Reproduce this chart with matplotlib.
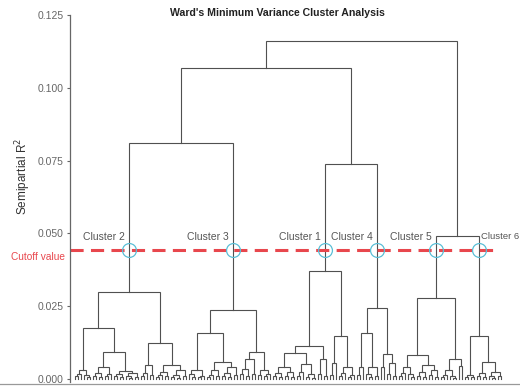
import matplotlib
matplotlib.use('Agg')
import matplotlib.pyplot as plt
from matplotlib.lines import Line2D

plt.rcParams['font.family'] = ['Liberation Sans', 'DejaVu Sans']

# merge tree: a node is (height, left, right), a leaf is 0
# cluster 2
a = (0.0030, (0.0018, (0.0009, 0, 0), 0), (0.0014, 0, (0.0007, 0, 0)))
b1 = (0.0040, (0.0022, (0.0011, 0, 0), (0.0008, 0, 0)), (0.0016, (0.0009, 0, 0), 0))
b2 = (0.0028, (0.0017, (0.0010, 0, 0), (0.0006, 0, 0)), (0.0021, (0.0012, 0, (0.0005, 0, 0)), (0.0008, 0, 0)))
c1 = (0.0048, (0.0020, (0.0009, 0, 0), 0), (0.0013, 0, 0))
c2 = (0.0048, (0.0026, (0.0014, (0.0007, 0, 0), 0), (0.0010, 0, 0)),
      (0.0031, (0.0015, (0.0008, 0, 0), (0.0005, 0, 0)), (0.0012, 0, 0)))
cluster2 = (0.0298, (0.0175, a, (0.0092, b1, b2)), (0.0123, c1, c2))

# cluster 3
d = (0.0032, (0.0016, 0, (0.0008, 0, 0)), (0.0012, (0.0006, 0, 0), 0))
e = (0.0060, (0.0030, (0.0015, (0.0008, 0, 0), 0), (0.0011, 0, 0)),
     (0.0040, (0.0022, (0.0010, 0, 0), (0.0007, 0, 0)), (0.0013, 0, 0)))
f = (0.0068, (0.0035, (0.0016, 0, 0), (0.0010, 0, 0)), (0.0018, 0, 0))
g = (0.0030, (0.0014, 0, 0), (0.0019, (0.0009, 0, 0), 0))
cluster3 = (0.0236, (0.0157, d, e), (0.0092, f, g))

# cluster 1
h1 = (0.0042, (0.0020, (0.0010, 0, 0), (0.0007, 0, 0)), (0.0025, (0.0012, 0, 0), (0.0006, 0, 0)))
h2 = (0.0052, (0.0024, (0.0011, 0, 0), 0), (0.0016, (0.0008, 0, 0), (0.0005, 0, 0)))
i1 = (0.0070, (0.0018, 0, 0), (0.0012, 0, 0))
j = (0.0055, (0.0015, 0, 0), 0)
k = (0.0042, (0.0020, (0.0009, 0, 0), 0), (0.0015, (0.0007, 0, 0), 0))
cluster1 = (0.0370, (0.0113, (0.0090, h1, h2), i1), (0.0147, j, k))

# cluster 4
l = (0.0042, (0.0015, 0, 0), 0)
m = (0.0042, (0.0018, 0, (0.0008, 0, 0)), (0.0012, 0, 0))
n = (0.0040, 0, 0)
o = (0.0055, (0.0016, 0, 0), (0.0010, 0, 0))
cluster4 = (0.0243, (0.0157, l, m), (0.0085, n, o))

# cluster 5
p = (0.0042, (0.0020, (0.0009, 0, 0), 0), (0.0016, 0, (0.0007, 0, 0)))
q = (0.0050, (0.0025, (0.0011, 0, 0), (0.0008, 0, 0)), (0.0030, (0.0013, 0, 0), (0.0006, 0, 0)))
r = (0.0030, (0.0014, (0.0007, 0, 0), 0), (0.0012, 0, (0.0005, 0, 0)))
s = (0.0045, 0, 0)
cluster5 = (0.0280, (0.0082, p, q), (0.0070, r, s))

# cluster 6
t = (0.0015, (0.0008, 0, 0), (0.0006, 0, 0))
u1 = (0.0022, (0.0010, 0, 0), (0.0007, 0, 0))
u2 = (0.0025, (0.0011, 0, (0.0005, 0, 0)), (0.0009, 0, 0))
cluster6 = (0.0147, t, (0.0058, u1, u2))

tree = (0.1160,
        (0.1068, (0.0812, cluster2, cluster3), (0.0740, cluster1, cluster4)),
        (0.0490, cluster5, cluster6))

cluster_names = ['Cluster 2', 'Cluster 3', 'Cluster 1', 'Cluster 4', 'Cluster 5', 'Cluster 6']
cutoff = 0.0442
y_ticks = [0.000, 0.025, 0.050, 0.075, 0.100, 0.125]

line_color = '#505050'
red = '#e8474d'
cyan = '#5bbfd6'

fig = plt.figure(figsize=(5.2, 3.86), dpi=100)
ax = fig.add_axes([70 / 520, 4 / 386, 440 / 520, 367 / 386])

counter = [0]
cluster_pos = []


def draw(node, parent_h):
    if node == 0:
        x = counter[0]
        counter[0] += 1
        return x, 0.0
    hgt, left, right = node
    xa, ha = draw(left, hgt)
    xb, hb = draw(right, hgt)
    ax.plot([xa, xa, xb, xb], [ha, hgt, hgt, hb], color=line_color, lw=0.8,
            solid_joinstyle='miter')
    x = (xa + xb) / 2
    if hgt < cutoff <= parent_h:
        cluster_pos.append(x)
    return x, hgt


draw(tree, 1.0)
n_leaves = counter[0]

xmin = -5 / 3
xmax = xmin + 440 / 3
ax.set_xlim(xmin, xmax)
ax.set_ylim(-0.001, 0.125)

# cutoff line
cut_line, = ax.plot([xmin, n_leaves - 2], [cutoff, cutoff], color=red, lw=2.2)
cut_line.set_dashes((4.3, 2.4))

for idx, (name, x) in enumerate(zip(cluster_names, cluster_pos)):
    ax.plot(x, cutoff, 'o', ms=10, mfc='none', mec=cyan, mew=0.9)
    if idx == len(cluster_names) - 1:
        ax.text(x + 0.8, 0.0489, name, ha='left', va='center', fontsize=6.8, color='#555555')
    else:
        ax.text(x - 1.3, 0.0489, name, ha='right', va='center', fontsize=7.5, color='#555555')

ax.text(xmin - 1.6, cutoff - 0.0022, 'Cutoff value', ha='right', va='center',
        fontsize=7.3, color=red, clip_on=False)

ax.set_yticks(y_ticks)
ax.set_yticklabels(['%.3f' % v for v in y_ticks])
ax.set_xticks([])
ax.tick_params(axis='y', labelsize=7.5, colors='#666666', length=2.5, width=0.8, pad=2)
for side in ['top', 'right', 'bottom']:
    ax.spines[side].set_visible(False)
ax.spines['left'].set_color('#666666')
ax.spines['left'].set_linewidth(0.9)

fig.add_artist(Line2D([0, 1], [2.5 / 386, 2.5 / 386], transform=fig.transFigure,
                      color='#999999', lw=0.9))

fig.text(277 / 520, 1 - 13 / 386, "Ward's Minimum Variance Cluster Analysis",
         ha='center', va='center', fontsize=7.6, fontweight='bold', color='#222222')
fig.text(23 / 520, 1 - 176 / 386, 'Semipartial R$^2$', rotation=90,
         ha='center', va='center', fontsize=8.5, color='#333333')

fig.savefig('out.png', dpi=100)
